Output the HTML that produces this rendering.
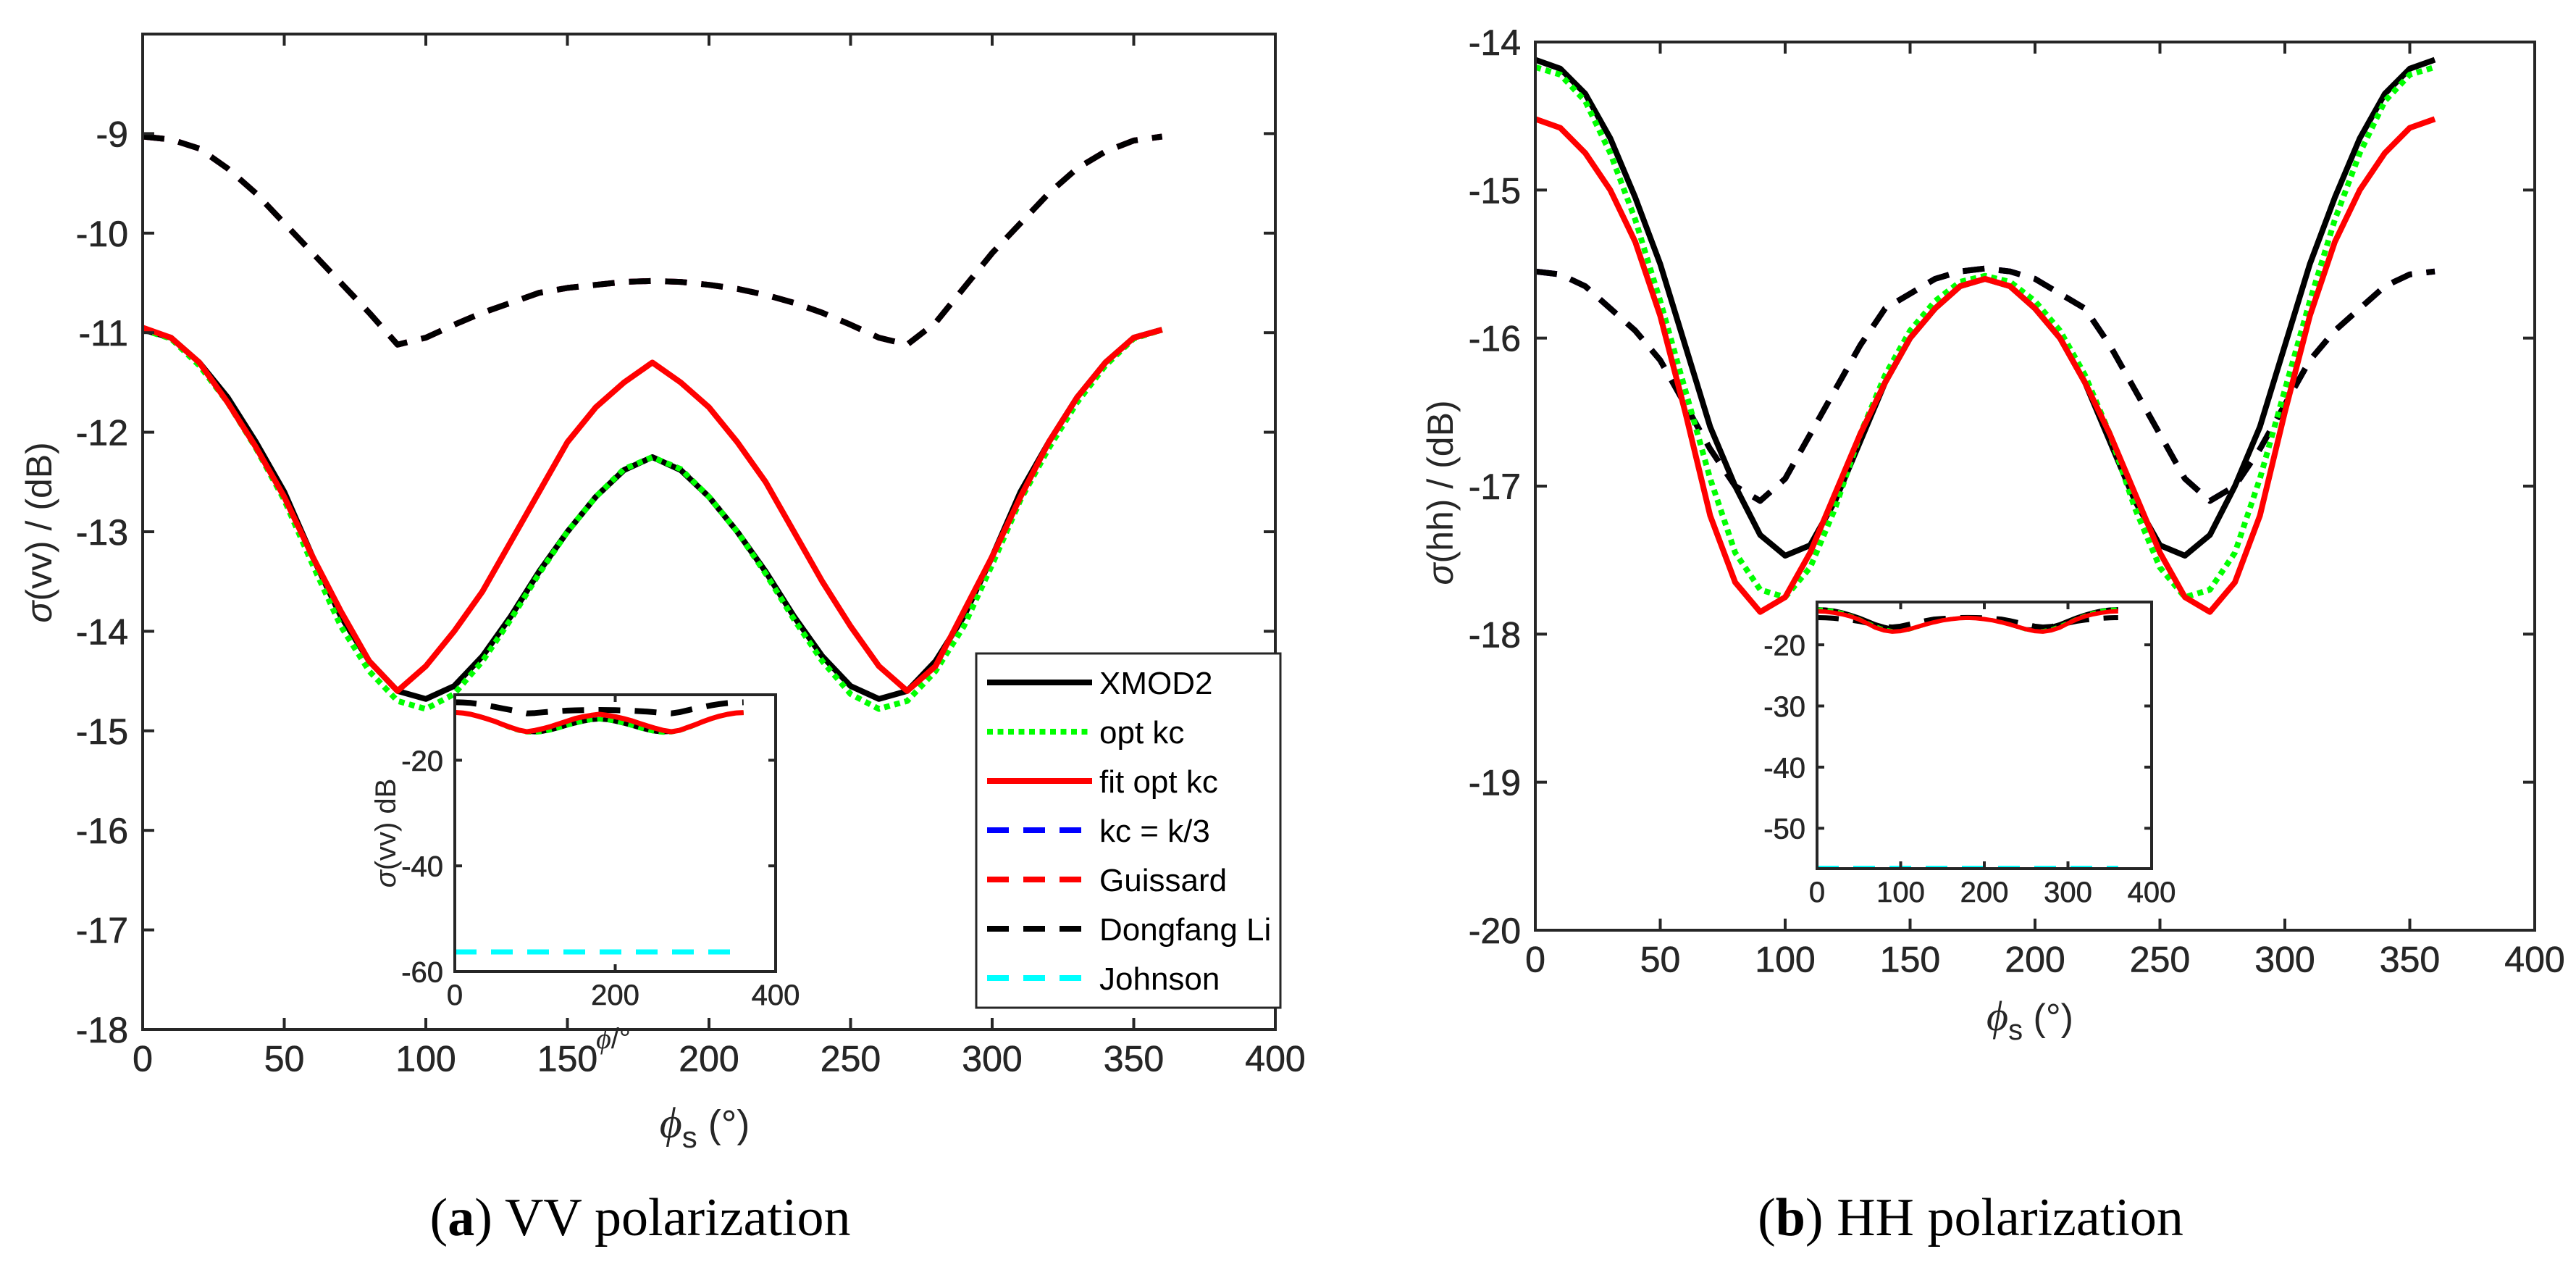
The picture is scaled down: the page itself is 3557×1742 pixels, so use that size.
<!DOCTYPE html>
<html><head><meta charset="utf-8"><style>
html,body{margin:0;padding:0;background:#fff;}
svg{display:block;font-family:"Liberation Sans",Arial,sans-serif;}
</style></head><body>
<svg id="fig" width="3557" height="1742" viewBox="0 0 3557 1742" xmlns="http://www.w3.org/2000/svg">
<defs>
<clipPath id="clipA"><rect x="197" y="47" width="1564" height="1374"/></clipPath>
<clipPath id="clipB"><rect x="2120" y="58" width="1380" height="1226"/></clipPath>
<clipPath id="clipAi"><rect x="628" y="959" width="443" height="382"/></clipPath>
<clipPath id="clipBi"><rect x="2509" y="831" width="462" height="368"/></clipPath>
</defs>
<g id="layer"></g>
<text x="884" y="1705" text-anchor="middle" font-family="'Liberation Serif',serif" font-size="74" fill="#000">(<tspan font-weight="bold">a</tspan>) VV polarization</text>
<text x="2721" y="1705" text-anchor="middle" font-family="'Liberation Serif',serif" font-size="74" fill="#000">(<tspan font-weight="bold">b</tspan>) HH polarization</text>
</svg>
<script>
const phi = [0,10,20,30,40,50,60,70,80,90,100,110,120,130,140,150,160,170,180,190,200,210,220,230,240,250,260,270,280,290,300,310,320,330,340,350,360];
// VV
const vvXmod2 = [-10.97,-11.05,-11.3,-11.65,-12.1,-12.6,-13.25,-13.85,-14.3,-14.6,-14.68,-14.55,-14.25,-13.85,-13.4,-13.0,-12.65,-12.38,-12.25,-12.38,-12.65,-13.0,-13.4,-13.85,-14.25,-14.55,-14.68,-14.6,-14.3,-13.85,-13.25,-12.6,-12.1,-11.65,-11.3,-11.05,-10.97];
const vvOptKc = [-10.97,-11.06,-11.33,-11.7,-12.16,-12.68,-13.33,-13.95,-14.4,-14.7,-14.78,-14.63,-14.3,-13.88,-13.42,-13.0,-12.65,-12.37,-12.25,-12.37,-12.65,-13.0,-13.42,-13.88,-14.3,-14.63,-14.78,-14.7,-14.4,-13.95,-13.33,-12.68,-12.16,-11.7,-11.33,-11.06,-10.97];
const vvFit = [-10.95,-11.05,-11.3,-11.7,-12.15,-12.65,-13.25,-13.8,-14.3,-14.6,-14.35,-14.0,-13.6,-13.1,-12.6,-12.1,-11.75,-11.5,-11.3,-11.5,-11.75,-12.1,-12.5,-13.0,-13.5,-13.95,-14.35,-14.6,-14.35,-13.8,-13.25,-12.65,-12.1,-11.65,-11.3,-11.05,-10.97];
const vvLi = [-9.03,-9.06,-9.15,-9.35,-9.6,-9.9,-10.2,-10.5,-10.8,-11.12,-11.05,-10.92,-10.8,-10.7,-10.6,-10.55,-10.52,-10.49,-10.48,-10.49,-10.52,-10.56,-10.62,-10.7,-10.8,-10.92,-11.05,-11.12,-10.9,-10.55,-10.2,-9.9,-9.6,-9.35,-9.18,-9.07,-9.03];
const vvJohnson = [-56.3,-56.3,-56.3,-56.3,-56.3,-56.3,-56.3,-56.3,-56.3,-56.3,-56.3,-56.3,-56.3,-56.3,-56.3,-56.3,-56.3,-56.3,-56.3,-56.3,-56.3,-56.3,-56.3,-56.3,-56.3,-56.3,-56.3,-56.3,-56.3,-56.3,-56.3,-56.3,-56.3,-56.3,-56.3,-56.3,-56.3];
// HH
const hhXmod2 = [-14.12,-14.18,-14.35,-14.65,-15.05,-15.5,-16.05,-16.6,-17.0,-17.33,-17.47,-17.4,-17.1,-16.7,-16.3,-16.0,-15.8,-15.65,-15.6,-15.65,-15.8,-16.0,-16.3,-16.7,-17.1,-17.4,-17.47,-17.33,-17.0,-16.6,-16.05,-15.5,-15.05,-14.65,-14.35,-14.18,-14.12];
const hhOptKc = [-14.17,-14.22,-14.4,-14.75,-15.2,-15.75,-16.35,-16.95,-17.45,-17.7,-17.75,-17.55,-17.15,-16.65,-16.25,-15.95,-15.75,-15.62,-15.58,-15.62,-15.75,-15.95,-16.25,-16.65,-17.15,-17.55,-17.75,-17.7,-17.45,-16.95,-16.35,-15.75,-15.2,-14.75,-14.4,-14.22,-14.17];
const hhFit = [-14.52,-14.58,-14.75,-15.0,-15.35,-15.85,-16.5,-17.2,-17.65,-17.85,-17.75,-17.45,-17.05,-16.65,-16.3,-16.0,-15.8,-15.65,-15.6,-15.65,-15.8,-16.0,-16.3,-16.65,-17.05,-17.45,-17.75,-17.85,-17.65,-17.2,-16.5,-15.85,-15.35,-15.0,-14.75,-14.58,-14.52];
const hhLi = [-15.55,-15.57,-15.65,-15.8,-15.95,-16.15,-16.45,-16.75,-17.0,-17.1,-16.95,-16.65,-16.35,-16.05,-15.8,-15.7,-15.6,-15.55,-15.53,-15.55,-15.6,-15.7,-15.8,-16.05,-16.35,-16.65,-16.95,-17.1,-17.0,-16.75,-16.45,-16.15,-15.95,-15.8,-15.65,-15.57,-15.55];
const hhJohnson = [-56.6,-56.6,-56.6,-56.6,-56.6,-56.6,-56.6,-56.6,-56.6,-56.6,-56.6,-56.6,-56.6,-56.6,-56.6,-56.6,-56.6,-56.6,-56.6,-56.6,-56.6,-56.6,-56.6,-56.6,-56.6,-56.6,-56.6,-56.6,-56.6,-56.6,-56.6,-56.6,-56.6,-56.6,-56.6,-56.6,-56.6];
// ticks
const xTicksMain = [0,50,100,150,200,250,300,350,400];
const yTicksA = [-18,-17,-16,-15,-14,-13,-12,-11,-10,-9];
const yTicksB = [-20,-19,-18,-17,-16,-15,-14];
const xTicksAi = [0,200,400];
const yTicksAi = [-60,-40,-20];
const xTicksBi = [0,100,200,300,400];
const yTicksBi = [-50,-40,-30,-20];
const legendLabels = ["XMOD2","opt kc","fit opt kc","kc = k/3","Guissard","Dongfang Li","Johnson"];

const NS = "http://www.w3.org/2000/svg";
const layer = document.getElementById('layer');
function mk(tag, attrs, parent){
  const e = document.createElementNS(NS, tag);
  for (const k in attrs) e.setAttribute(k, attrs[k]);
  (parent||layer).appendChild(e);
  return e;
}
function axes(o){
  o.sx = v => o.x0 + (v - o.xmin) / (o.xmax - o.xmin) * (o.x1 - o.x0);
  o.sy = v => o.y1 - (v - o.ymin) / (o.ymax - o.ymin) * (o.y1 - o.y0);
  return o;
}
const STY = {
  xmod2:{stroke:'#000',dash:null,w:8},
  opt:{stroke:'#00ff00',dash:'8 6.5',w:8},
  fit:{stroke:'#ff0000',dash:null,w:8},
  kc:{stroke:'#0000ff',dash:'30 20',w:8},
  gui:{stroke:'#ff0000',dash:'30 20',w:8},
  li:{stroke:'#000',dash:'30 20',w:8},
  john:{stroke:'#00ffff',dash:'30 20',w:8}
};
function series(ax, vals, st, clip, name, w){
  const d = phi.map((p,i)=>(i?'L':'M')+ax.sx(p).toFixed(1)+','+ax.sy(vals[i]).toFixed(1)).join(' ');
  const el = mk('path',{d:d,fill:'none',stroke:st.stroke,'stroke-width':w||st.w,'stroke-linejoin':'round','clip-path':'url(#'+clip+')'});
  if (st.dash) el.setAttribute('stroke-dasharray', st.dash);
  
  
}
function frame(ax, xt, yt, fs, tl, name){
  const g = mk('g',{});
  
  
  mk('rect',{x:ax.x0,y:ax.y0,width:ax.x1-ax.x0,height:ax.y1-ax.y0,fill:'none',stroke:'#262626','stroke-width':4},g);
  xt.forEach(v=>{
    const x = ax.sx(v);
    mk('line',{x1:x,y1:ax.y1,x2:x,y2:ax.y1-tl,stroke:'#262626','stroke-width':4},g);
    mk('line',{x1:x,y1:ax.y0,x2:x,y2:ax.y0+tl,stroke:'#262626','stroke-width':4},g);
    const t = mk('text',{x:x,y:ax.y1+fs*1.15,'text-anchor':'middle','font-size':fs,fill:'#262626',stroke:'#262626','stroke-width':0.6},g);
    t.textContent = v;
    
    
  });
  yt.forEach(v=>{
    const y = ax.sy(v);
    mk('line',{x1:ax.x0,y1:y,x2:ax.x0+tl,y2:y,stroke:'#262626','stroke-width':4},g);
    mk('line',{x1:ax.x1,y1:y,x2:ax.x1-tl,y2:y,stroke:'#262626','stroke-width':4},g);
    const t = mk('text',{x:ax.x0-fs*0.4,y:y+fs*0.36,'text-anchor':'end','font-size':fs,fill:'#262626',stroke:'#262626','stroke-width':0.6},g);
    t.textContent = v;
    
    
  });
}
function label(x,y,html,fs,rot,name){
  const t = mk('text',{x:x,y:y,'text-anchor':'middle','font-size':fs,fill:'#262626'});
  if (rot) t.setAttribute('transform','rotate(-90 '+x+' '+y+')');
  t.innerHTML = html;
  
  
}

// ---------- Plot A (VV) ----------
const A = axes({x0:197,x1:1761,y0:47,y1:1421,xmin:0,xmax:400,ymin:-18,ymax:-8});
series(A, vvLi, STY.kc, 'clipA', 'vv-kc-k3-line');
series(A, vvLi, STY.gui, 'clipA', 'vv-guissard-line');
series(A, vvLi, STY.li, 'clipA', 'vv-dongfang-li-line');
series(A, vvXmod2, STY.xmod2, 'clipA', 'vv-xmod2-line');
series(A, vvOptKc, STY.opt, 'clipA', 'vv-opt-kc-line');
series(A, vvFit, STY.fit, 'clipA', 'vv-fit-opt-kc-line');
frame(A, xTicksMain, yTicksA, 50, 16, 'vv-axes');
label(71, 735, '<tspan font-style="italic">σ</tspan>(vv) / (dB)', 50, true, 'vv-y-axis-title');
label(973, 1570, '<tspan font-style="italic" font-family="\'Liberation Serif\',serif" font-size="60">ϕ</tspan><tspan dy="14" font-size="42">s</tspan><tspan dy="-14"> (°)</tspan>', 54, false, 'vv-x-axis-title');

// legend
const lg = mk('g',{});


mk('rect',{x:1348,y:902,width:420,height:489,fill:'#fff',stroke:'#262626','stroke-width':3},lg);
const legStyles = [STY.xmod2,STY.opt,STY.fit,STY.kc,STY.gui,STY.li,STY.john];
legendLabels.forEach((lab,i)=>{
  const y = 942 + i*68;
  const st = legStyles[i];
  const l = mk('line',{x1:1363,y1:y,x2:1508,y2:y,stroke:st.stroke,'stroke-width':8},lg);
  if (st.dash) l.setAttribute('stroke-dasharray', st.dash);
  
  
  const t = mk('text',{x:1518,y:y+16,'font-size':44,fill:'#000'},lg);
  t.textContent = lab;
  
  
});

// inset A
const Ai = axes({x0:628,x1:1071,y0:959,y1:1341,xmin:0,xmax:400,ymin:-60,ymax:-7.6});
mk('rect',{x:628,y:959,width:443,height:382,fill:'#fff'});
series(Ai, vvLi, STY.li, 'clipAi', 'vv-inset-dongfang-li-line', 8);
series(Ai, vvXmod2, STY.xmod2, 'clipAi', 'vv-inset-xmod2-line', 6);
series(Ai, vvOptKc, STY.opt, 'clipAi', 'vv-inset-opt-kc-line', 6);
series(Ai, vvFit, STY.fit, 'clipAi', 'vv-inset-fit-line', 7);
series(Ai, vvJohnson, STY.john, 'clipAi', 'vv-inset-johnson-line', 7);
frame(Ai, xTicksAi, yTicksAi, 40, 10, 'vv-inset-axes');
label(546, 1150, '<tspan font-style="italic">σ</tspan>(vv) dB', 40, true, 'vv-inset-y-title');
label(847, 1447, '<tspan font-style="italic" font-family="\'Liberation Serif\',serif">ϕ</tspan>/°', 40, false, 'vv-inset-x-title');

// ---------- Plot B (HH) ----------
const B = axes({x0:2120,x1:3500,y0:58,y1:1284,xmin:0,xmax:400,ymin:-20,ymax:-14});
series(B, hhLi, STY.gui, 'clipB', 'hh-guissard-line');
series(B, hhLi, STY.kc, 'clipB', 'hh-kc-k3-line');
series(B, hhLi, STY.li, 'clipB', 'hh-dongfang-li-line');
series(B, hhXmod2, STY.xmod2, 'clipB', 'hh-xmod2-line');
series(B, hhOptKc, STY.opt, 'clipB', 'hh-opt-kc-line');
series(B, hhFit, STY.fit, 'clipB', 'hh-fit-opt-kc-line');
frame(B, xTicksMain, yTicksB, 50, 16, 'hh-axes');
label(2006, 680, '<tspan font-style="italic">σ</tspan>(hh) / (dB)', 50, true, 'hh-y-axis-title');
label(2803, 1422, '<tspan font-style="italic" font-family="\'Liberation Serif\',serif" font-size="58">ϕ</tspan><tspan dy="13" font-size="40">s</tspan><tspan dy="-13"> (°)</tspan>', 52, false, 'hh-x-axis-title');

// inset B
const Bi = axes({x0:2509,x1:2971,y0:831,y1:1199,xmin:0,xmax:400,ymin:-56.6,ymax:-13});
mk('rect',{x:2509,y:831,width:462,height:368,fill:'#fff'});
series(Bi, hhLi, STY.li, 'clipBi', 'hh-inset-dongfang-li-line', 7);
series(Bi, hhXmod2, STY.xmod2, 'clipBi', 'hh-inset-xmod2-line', 5);
series(Bi, hhOptKc, STY.opt, 'clipBi', 'hh-inset-opt-kc-line', 5);
series(Bi, hhFit, STY.fit, 'clipBi', 'hh-inset-fit-line', 6);
series(Bi, hhJohnson, STY.john, 'clipBi', 'hh-inset-johnson-line', 8);
frame(Bi, xTicksBi, yTicksBi, 40, 10, 'hh-inset-axes');
</script>
</body></html>
